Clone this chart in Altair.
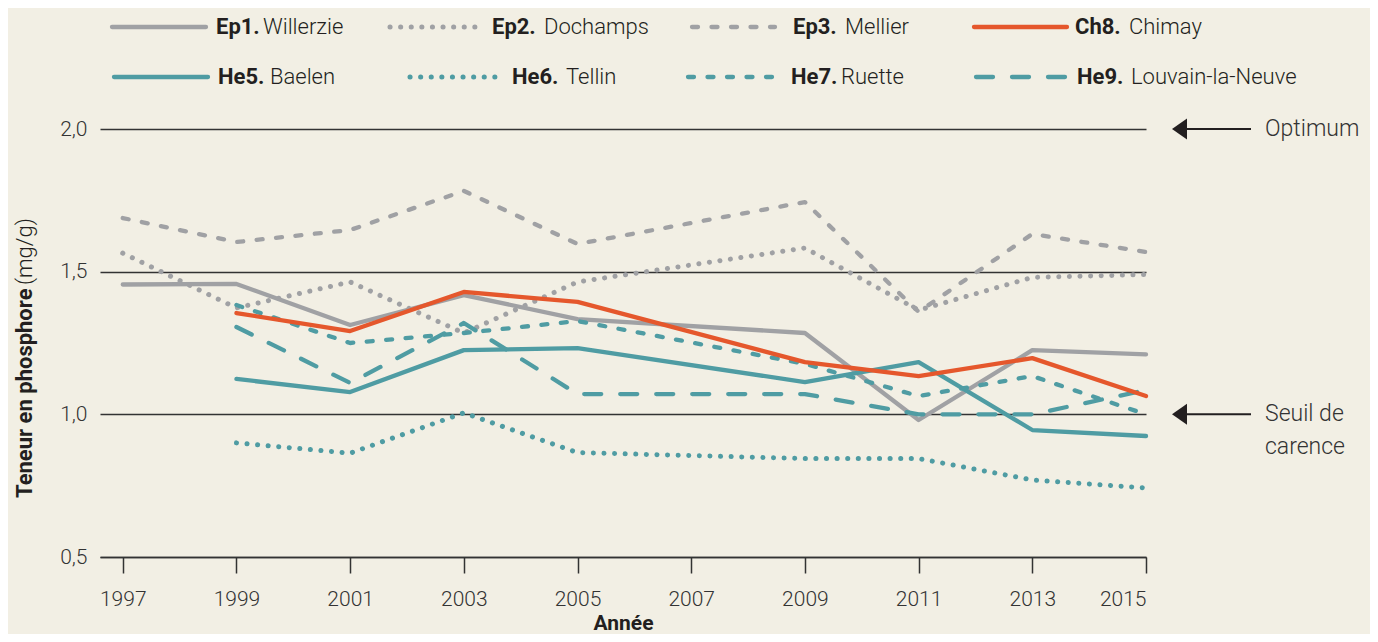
import altair as alt
import pandas as pd

# ---------------- data ----------------
YEARS = [1997, 1999, 2001, 2003, 2005, 2009, 2011, 2013, 2015]
EP1 = [1.455, 1.457, 1.313, 1.418, 1.334, 1.285, 0.980, 1.225, 1.210]
EP2 = [1.565, 1.373, 1.464, 1.285, 1.464, 1.583, 1.365, 1.480, 1.490]
EP3 = [1.688, 1.604, 1.646, 1.783, 1.597, 1.744, 1.359, 1.632, 1.569]
CH8 = [None, 1.355, 1.292, 1.429, 1.394, 1.183, 1.134, 1.197, 1.064]
HE5 = [None, 1.124, 1.078, 1.225, 1.232, 1.113, 1.183, 0.945, 0.924]
HE6 = [None, 0.900, 0.864, 1.005, 0.866, 0.845, 0.845, 0.770, 0.742]
HE7 = [None, 1.383, 1.250, 1.285, 1.327, 1.177, 1.064, 1.134, 1.000]
HE9 = [None, 1.306, 1.110, 1.320, 1.071, 1.071, 1.000, 1.000, 1.085]

CODES = ["Ep1.", "Ep2.", "Ep3.", "Ch8.", "He5.", "He6.", "He7.", "He9."]
NAMES = ["Willerzie", "Dochamps", "Mellier", "Chimay",
         "Baelen", "Tellin", "Ruette", "Louvain-la-Neuve"]
SERIES = [EP1, EP2, EP3, CH8, HE5, HE6, HE7, HE9]

Y_TICKS = [0.5, 1.0, 1.5, 2.0]
X_TICKS = list(range(1997, 2016, 2))
OPTIMUM = 2.0
SEUIL = 1.0

# ---------------- styles ----------------
BG = "#F2EFE4"
GREY = "#A0A1A4"
TEAL = "#4F9CA3"
ORANGE = "#E5572C"
INK = "#231F20"
TXT = "#333333"
FONT = "Roboto"

SOLID = None
DOT = [0.1, 10.5]
SHORT = [6, 13.5]
LONG = [17, 19]

STYLES = [
    (GREY, SOLID), (GREY, DOT), (GREY, SHORT), (ORANGE, SOLID),
    (TEAL, SOLID), (TEAL, DOT), (TEAL, SHORT), (TEAL, LONG),
]
DRAW_ORDER = [0, 1, 2, 4, 5, 6, 7, 3]

# legend layout (pixels relative to plot origin)
LEG = [  # line x1, line x2, code x, name x, row y
    (12, 106, 116, 163, -102), (290, 382, 392, 444, -102),
    (592, 675, 693, 745, -102), (874, 967, 975, 1029, -102),
    (14, 108, 118, 170, -52), (310, 402, 412, 466, -52),
    (588, 673, 691, 741, -52), (876, 968, 977, 1031, -52),
]

W, H = 1046, 428


def width_for(dash):
    return 5.0 if dash == DOT else 4.3


x_enc = alt.X(
    "year:Q",
    scale=alt.Scale(domain=[1996.6, 2015], nice=False, zero=False),
    axis=alt.Axis(
        values=X_TICKS, format="d", grid=False,
        tickSize=16, tickColor=TXT, tickWidth=1.5,
        domainColor=TXT, domainWidth=1.5,
        labelFont=FONT, labelFontSize=21, labelFontWeight=300,
        labelColor=TXT, labelPadding=15,
        title="Année", titleFont=FONT, titleFontSize=21,
        titleFontWeight="bold", titleColor=INK,
        titleY=76, titleBaseline="bottom",
    ),
)
y_enc = alt.Y(
    "value:Q",
    scale=alt.Scale(domain=[0.5, 2.0], nice=False, zero=False),
    axis=alt.Axis(
        values=Y_TICKS,
        labelExpr="replace(format(datum.value, '.1f'), '.', ',')",
        grid=True, gridColor=TXT, gridWidth=1.3,
        domain=False, ticks=False,
        labelFont=FONT, labelFontSize=21, labelFontWeight=300,
        labelColor=TXT, labelPadding=13, title=None,
    ),
)

layers = []
for i in DRAW_ORDER:
    color, dash = STYLES[i]
    df = pd.DataFrame({"year": YEARS, "value": SERIES[i]}).dropna()
    kw = dict(color=color, strokeWidth=width_for(dash), strokeCap="round",
              strokeJoin="round")
    if dash is not None:
        kw["strokeDash"] = dash
    layers.append(alt.Chart(df).mark_line(**kw).encode(x=x_enc, y=y_enc))

one = pd.DataFrame({"k": [0]})

# legend
for i in range(8):
    color, dash = STYLES[i]
    lx1, lx2, cx, nx, ly = LEG[i]
    kw = dict(color=color, strokeWidth=width_for(dash), strokeCap="round")
    if dash is not None:
        kw["strokeDash"] = dash
    layers.append(alt.Chart(one).mark_rule(**kw).encode(
        x=alt.value(lx1), x2=alt.value(lx2), y=alt.value(ly)))
    layers.append(alt.Chart(one).mark_text(
        text=CODES[i], font=FONT, fontSize=22, fontWeight="bold", color=INK,
        align="left", baseline="middle").encode(x=alt.value(cx), y=alt.value(ly)))
    layers.append(alt.Chart(one).mark_text(
        text=NAMES[i], font=FONT, fontSize=22, fontWeight=300, color=INK,
        align="left", baseline="middle").encode(x=alt.value(nx), y=alt.value(ly)))

# y axis title (bold + regular)
layers.append(alt.Chart(one).mark_text(
    text="Teneur en phosphore", font=FONT, fontSize=22, fontWeight="bold",
    color=INK, align="left", baseline="middle", angle=270).encode(
    x=alt.value(-75), y=alt.value(369)))
layers.append(alt.Chart(one).mark_text(
    text="(mg/g)", font=FONT, fontSize=22, fontWeight=300,
    color=INK, align="left", baseline="middle", angle=270).encode(
    x=alt.value(-75), y=alt.value(156)))

# right annotations
ARROW = "M-1,0L1,-1.4L1,1.4Z"
for lvl in (OPTIMUM, SEUIL):
    layers.append(alt.Chart(one).mark_rule(color=INK, strokeWidth=2).encode(
        x=alt.value(1084), x2=alt.value(1151), y=alt.datum(lvl)))
    layers.append(alt.Chart(one).mark_point(
        shape=ARROW, size=225, filled=True, color=INK, opacity=1).encode(
        x=alt.value(1079.5), y=alt.datum(lvl)))

layers.append(alt.Chart(one).mark_text(
    text="Optimum", font=FONT, fontSize=23, fontWeight=300, color=TXT,
    align="left", baseline="middle").encode(x=alt.value(1165), y=alt.datum(OPTIMUM)))
layers.append(alt.Chart(one).mark_text(
    text="Seuil de", font=FONT, fontSize=23, fontWeight=300, color=TXT,
    align="left", baseline="middle").encode(x=alt.value(1165), y=alt.datum(SEUIL)))
layers.append(alt.Chart(one).mark_text(
    text="carence", font=FONT, fontSize=23, fontWeight=300, color=TXT,
    align="left", baseline="middle", dy=33).encode(x=alt.value(1165), y=alt.datum(SEUIL)))

chart = alt.layer(*layers).properties(
    width=W, height=H,
    padding={"left": 92, "top": 121, "right": 224, "bottom": 77},
    autosize=alt.AutoSizeParams(type="none"),
    background=BG,
).configure_view(stroke=None)

chart.save("out.html", embed_options={"renderer": "svg", "actions": False})
